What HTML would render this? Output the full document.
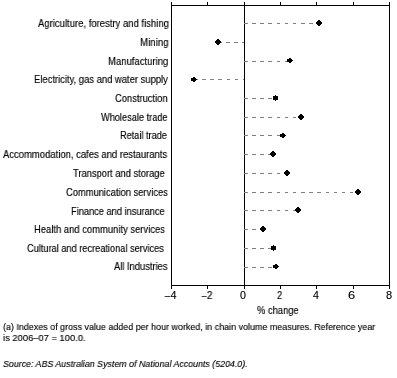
<!DOCTYPE html><html><head><meta charset="utf-8"><style>
html,body{margin:0;padding:0;background:#fff;}
#c{position:relative;width:397px;height:378px;overflow:hidden;background:#fff;font-family:"Liberation Sans",sans-serif;color:#000;}
.t{position:absolute;white-space:nowrap;line-height:1;transform-origin:0 0;will-change:transform;}
svg{position:absolute;left:0;top:0;}
.t{filter:url(#crisp);}
</style></head><body><div id="c">
<svg width="397" height="378" shape-rendering="crispEdges"><defs><filter id="crisp" x="-50%" y="-50%" width="200%" height="200%"><feComponentTransfer><feFuncA type="gamma" amplitude="1" exponent="0.8" offset="0"/></feComponentTransfer></filter></defs><rect x="171" y="5" width="219" height="1" fill="#000"/><rect x="171" y="285" width="219" height="1" fill="#000"/><rect x="171" y="2" width="1" height="287" fill="#000"/><rect x="389" y="2" width="1" height="287" fill="#000"/><rect x="244" y="2" width="1" height="287" fill="#000"/><rect x="207" y="2" width="1" height="3" fill="#000"/><rect x="207" y="286" width="1" height="3" fill="#000"/><rect x="280" y="2" width="1" height="3" fill="#000"/><rect x="280" y="286" width="1" height="3" fill="#000"/><rect x="316" y="2" width="1" height="3" fill="#000"/><rect x="316" y="286" width="1" height="3" fill="#000"/><rect x="353" y="2" width="1" height="3" fill="#000"/><rect x="353" y="286" width="1" height="3" fill="#000"/><rect x="244" y="23" width="4" height="1" fill="#808080"/><rect x="252" y="23" width="4" height="1" fill="#808080"/><rect x="260" y="23" width="4" height="1" fill="#808080"/><rect x="268" y="23" width="4" height="1" fill="#808080"/><rect x="277" y="23" width="3" height="1" fill="#808080"/><rect x="285" y="23" width="3" height="1" fill="#808080"/><rect x="293" y="23" width="3" height="1" fill="#808080"/><rect x="301" y="23" width="4" height="1" fill="#808080"/><rect x="309" y="23" width="4" height="1" fill="#808080"/><rect x="317" y="23" width="3" height="1" fill="#808080"/><rect x="218" y="42" width="4" height="1" fill="#808080"/><rect x="226" y="42" width="4" height="1" fill="#808080"/><rect x="234" y="42" width="4" height="1" fill="#808080"/><rect x="242" y="42" width="2" height="1" fill="#808080"/><rect x="244" y="61" width="4" height="1" fill="#808080"/><rect x="252" y="61" width="4" height="1" fill="#808080"/><rect x="260" y="61" width="4" height="1" fill="#808080"/><rect x="268" y="61" width="4" height="1" fill="#808080"/><rect x="277" y="61" width="3" height="1" fill="#808080"/><rect x="285" y="61" width="3" height="1" fill="#808080"/><rect x="194" y="79" width="4" height="1" fill="#808080"/><rect x="202" y="79" width="4" height="1" fill="#808080"/><rect x="210" y="79" width="4" height="1" fill="#808080"/><rect x="218" y="79" width="4" height="1" fill="#808080"/><rect x="227" y="79" width="3" height="1" fill="#808080"/><rect x="235" y="79" width="3" height="1" fill="#808080"/><rect x="243" y="79" width="1" height="1" fill="#808080"/><rect x="244" y="98" width="4" height="1" fill="#808080"/><rect x="252" y="98" width="4" height="1" fill="#808080"/><rect x="260" y="98" width="4" height="1" fill="#808080"/><rect x="268" y="98" width="4" height="1" fill="#808080"/><rect x="244" y="117" width="4" height="1" fill="#808080"/><rect x="252" y="117" width="4" height="1" fill="#808080"/><rect x="260" y="117" width="4" height="1" fill="#808080"/><rect x="268" y="117" width="4" height="1" fill="#808080"/><rect x="277" y="117" width="3" height="1" fill="#808080"/><rect x="285" y="117" width="3" height="1" fill="#808080"/><rect x="293" y="117" width="3" height="1" fill="#808080"/><rect x="244" y="135" width="4" height="1" fill="#808080"/><rect x="252" y="135" width="4" height="1" fill="#808080"/><rect x="260" y="135" width="4" height="1" fill="#808080"/><rect x="268" y="135" width="4" height="1" fill="#808080"/><rect x="277" y="135" width="3" height="1" fill="#808080"/><rect x="244" y="154" width="4" height="1" fill="#808080"/><rect x="252" y="154" width="4" height="1" fill="#808080"/><rect x="260" y="154" width="4" height="1" fill="#808080"/><rect x="268" y="154" width="4" height="1" fill="#808080"/><rect x="244" y="173" width="4" height="1" fill="#808080"/><rect x="252" y="173" width="4" height="1" fill="#808080"/><rect x="260" y="173" width="4" height="1" fill="#808080"/><rect x="268" y="173" width="4" height="1" fill="#808080"/><rect x="277" y="173" width="3" height="1" fill="#808080"/><rect x="285" y="173" width="3" height="1" fill="#808080"/><rect x="244" y="192" width="4" height="1" fill="#808080"/><rect x="252" y="192" width="4" height="1" fill="#808080"/><rect x="260" y="192" width="4" height="1" fill="#808080"/><rect x="268" y="192" width="4" height="1" fill="#808080"/><rect x="277" y="192" width="3" height="1" fill="#808080"/><rect x="285" y="192" width="3" height="1" fill="#808080"/><rect x="293" y="192" width="3" height="1" fill="#808080"/><rect x="301" y="192" width="4" height="1" fill="#808080"/><rect x="309" y="192" width="4" height="1" fill="#808080"/><rect x="317" y="192" width="4" height="1" fill="#808080"/><rect x="326" y="192" width="3" height="1" fill="#808080"/><rect x="334" y="192" width="3" height="1" fill="#808080"/><rect x="342" y="192" width="3" height="1" fill="#808080"/><rect x="350" y="192" width="3" height="1" fill="#808080"/><rect x="244" y="210" width="4" height="1" fill="#808080"/><rect x="252" y="210" width="4" height="1" fill="#808080"/><rect x="260" y="210" width="4" height="1" fill="#808080"/><rect x="268" y="210" width="4" height="1" fill="#808080"/><rect x="277" y="210" width="3" height="1" fill="#808080"/><rect x="285" y="210" width="3" height="1" fill="#808080"/><rect x="293" y="210" width="3" height="1" fill="#808080"/><rect x="244" y="229" width="4" height="1" fill="#808080"/><rect x="252" y="229" width="4" height="1" fill="#808080"/><rect x="260" y="229" width="4" height="1" fill="#808080"/><rect x="244" y="248" width="4" height="1" fill="#808080"/><rect x="252" y="248" width="4" height="1" fill="#808080"/><rect x="260" y="248" width="4" height="1" fill="#808080"/><rect x="268" y="248" width="4" height="1" fill="#808080"/><rect x="244" y="267" width="4" height="1" fill="#808080"/><rect x="252" y="267" width="4" height="1" fill="#808080"/><rect x="260" y="267" width="4" height="1" fill="#808080"/><rect x="268" y="267" width="4" height="1" fill="#808080"/><rect x="318" y="20" width="2" height="6" fill="#000"/><rect x="317" y="21" width="4" height="4" fill="#000"/><rect x="316" y="22" width="6" height="2" fill="#000"/><rect x="217" y="39" width="2" height="6" fill="#000"/><rect x="216" y="40" width="4" height="4" fill="#000"/><rect x="215" y="41" width="6" height="2" fill="#000"/><rect x="287" y="59" width="5" height="3" fill="#000"/><rect x="289" y="58" width="2" height="5" fill="#000"/><rect x="292" y="60" width="1" height="1" fill="#000"/><rect x="191" y="78" width="5" height="3" fill="#000"/><rect x="193" y="77" width="2" height="5" fill="#000"/><rect x="196" y="79" width="1" height="1" fill="#000"/><rect x="273" y="96" width="5" height="4" fill="#000"/><rect x="275" y="95" width="1" height="6" fill="#000"/><rect x="300" y="114" width="2" height="6" fill="#000"/><rect x="299" y="115" width="4" height="4" fill="#000"/><rect x="298" y="116" width="6" height="2" fill="#000"/><rect x="280" y="134" width="5" height="3" fill="#000"/><rect x="282" y="133" width="2" height="5" fill="#000"/><rect x="285" y="135" width="1" height="1" fill="#000"/><rect x="272" y="151" width="2" height="6" fill="#000"/><rect x="271" y="152" width="4" height="4" fill="#000"/><rect x="270" y="153" width="6" height="2" fill="#000"/><rect x="286" y="170" width="2" height="6" fill="#000"/><rect x="285" y="171" width="4" height="4" fill="#000"/><rect x="284" y="172" width="6" height="2" fill="#000"/><rect x="357" y="189" width="2" height="6" fill="#000"/><rect x="356" y="190" width="4" height="4" fill="#000"/><rect x="355" y="191" width="6" height="2" fill="#000"/><rect x="297" y="207" width="2" height="6" fill="#000"/><rect x="296" y="208" width="4" height="4" fill="#000"/><rect x="295" y="209" width="6" height="2" fill="#000"/><rect x="262" y="226" width="2" height="6" fill="#000"/><rect x="261" y="227" width="4" height="4" fill="#000"/><rect x="260" y="228" width="6" height="2" fill="#000"/><rect x="271" y="246" width="5" height="4" fill="#000"/><rect x="273" y="245" width="1" height="6" fill="#000"/><rect x="273" y="265" width="5" height="3" fill="#000"/><rect x="275" y="264" width="2" height="5" fill="#000"/><rect x="278" y="266" width="1" height="1" fill="#000"/></svg>
<div class="t" id="L0" style="left:38.00px;top:18.00px;font-size:11px;transform:scaleX(0.8633)">Agriculture, forestry and fishing</div>
<div class="t" id="L1" style="left:139.96px;top:37.00px;font-size:11px;transform:scaleX(0.8827)">Mining</div>
<div class="t" id="L2" style="left:107.98px;top:56.00px;font-size:11px;transform:scaleX(0.8647)">Manufacturing</div>
<div class="t" id="L3" style="left:33.99px;top:74.00px;font-size:11px;transform:scaleX(0.8564)">Electricity, gas and water supply</div>
<div class="t" id="L4" style="left:114.98px;top:93.00px;font-size:11px;transform:scaleX(0.8503)">Construction</div>
<div class="t" id="L5" style="left:100.50px;top:112.00px;font-size:11px;transform:scaleX(0.8375)">Wholesale trade</div>
<div class="t" id="L6" style="left:120.02px;top:130.00px;font-size:11px;transform:scaleX(0.8319)">Retail trade</div>
<div class="t" id="L7" style="left:3.00px;top:149.00px;font-size:11px;transform:scaleX(0.8605)">Accommodation, cafes and restaurants</div>
<div class="t" id="L8" style="left:73.00px;top:168.00px;font-size:11px;transform:scaleX(0.8500)">Transport and storage</div>
<div class="t" id="L9" style="left:65.99px;top:187.00px;font-size:11px;transform:scaleX(0.8501)">Communication services</div>
<div class="t" id="L10" style="left:71.01px;top:206.00px;font-size:11px;transform:scaleX(0.8409)">Finance and insurance</div>
<div class="t" id="L11" style="left:33.99px;top:224.00px;font-size:11px;transform:scaleX(0.8566)">Health and community services</div>
<div class="t" id="L12" style="left:27.00px;top:243.00px;font-size:11px;transform:scaleX(0.8378)">Cultural and recreational services</div>
<div class="t" id="L13" style="left:114.00px;top:261.00px;font-size:11px;transform:scaleX(0.8500)">All Industries</div>
<div class="t" id="T0" style="left:163.78px;top:290.00px;font-size:10.5px;transform:scaleX(1.0389)"><span style="position:relative;top:1px">&minus;</span>4</div>
<div class="t" id="T1" style="left:200.89px;top:290.00px;font-size:10.5px;transform:scaleX(0.9444)"><span style="position:relative;top:1px">&minus;</span>2</div>
<div class="t" id="T2" style="left:240.00px;top:290.00px;font-size:10.5px;transform:scaleX(1.0200)">0</div>
<div class="t" id="T3" style="left:277.00px;top:290.00px;font-size:10.5px;transform:scaleX(0.8854)">2</div>
<div class="t" id="T4" style="left:313.00px;top:290.00px;font-size:10.5px;transform:scaleX(1.0200)">4</div>
<div class="t" id="T5" style="left:347.80px;top:290.00px;font-size:10.5px;transform:scaleX(1.2240)">6</div>
<div class="t" id="T6" style="left:386.00px;top:290.00px;font-size:10.5px;transform:scaleX(1.0491)">8</div>
<div class="t" id="X" style="left:257.00px;top:305.00px;font-size:10.5px;transform:scaleX(0.8936);">% change</div>
<div class="t" id="F1" style="left:2.98px;top:322.00px;font-size:9.8px;transform:scaleX(0.9126);">(a) Indexes of gross value added per hour worked, in chain volume measures. Reference year</div>
<div class="t" id="F2" style="left:2.73px;top:333.00px;font-size:9.8px;transform:scaleX(0.9570);">is 2006&ndash;07 = 100.0.</div>
<div class="t" id="S" style="left:2.96px;top:359.00px;font-size:9.8px;transform:scaleX(0.9020);font-style:italic">Source: ABS Australian System of National Accounts (5204.0).</div>
</div></body></html>
